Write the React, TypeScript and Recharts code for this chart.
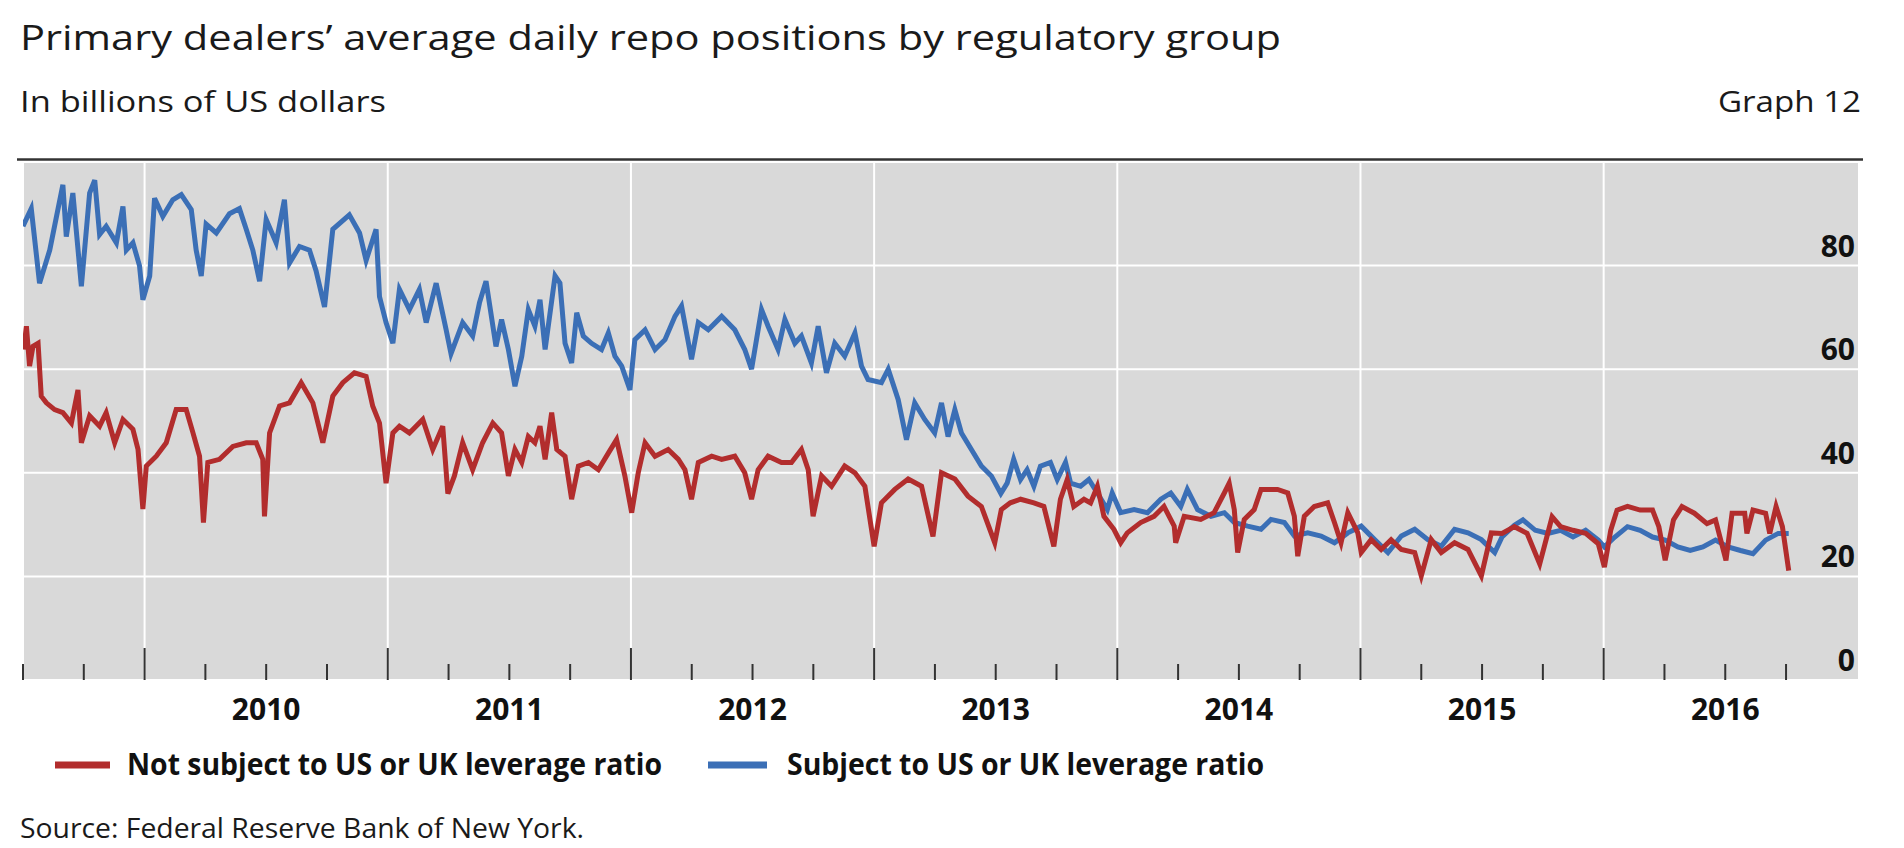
import React from "react";
import { LineChart, Line, XAxis, YAxis, CartesianGrid } from "recharts";

//========== Data (decimal years, USD bn) ===========

const notSubjectDates = [
  2009.503, 2009.514, 2009.527, 2009.541, 2009.562, 2009.575, 2009.596, 2009.63, 2009.664, 2009.699,
  2009.726, 2009.74, 2009.774, 2009.815, 2009.842, 2009.877, 2009.911, 2009.952, 2009.973, 2009.993,
  2010.007, 2010.048, 2010.089, 2010.13, 2010.171, 2010.199, 2010.226, 2010.242, 2010.26, 2010.308,
  2010.363, 2010.418, 2010.459, 2010.486, 2010.493, 2010.514, 2010.555, 2010.596, 2010.644, 2010.692,
  2010.733, 2010.774, 2010.815, 2010.863, 2010.911, 2010.938, 2010.966, 2010.993, 2011.021, 2011.048,
  2011.089, 2011.144, 2011.185, 2011.226, 2011.247, 2011.274, 2011.308, 2011.349, 2011.39, 2011.432,
  2011.468, 2011.496, 2011.523, 2011.551, 2011.578, 2011.605, 2011.626, 2011.647, 2011.674, 2011.695,
  2011.729, 2011.756, 2011.784, 2011.825, 2011.866, 2011.907, 2011.941, 2011.975, 2012.003, 2012.03,
  2012.058, 2012.099, 2012.153, 2012.195, 2012.222, 2012.249, 2012.277, 2012.332, 2012.373, 2012.427,
  2012.468, 2012.496, 2012.523, 2012.564, 2012.619, 2012.66, 2012.701, 2012.729, 2012.749, 2012.784,
  2012.825, 2012.879, 2012.921, 2012.962, 2013.0, 2013.03, 2013.085, 2013.14, 2013.195, 2013.242,
  2013.277, 2013.332, 2013.386, 2013.441, 2013.496, 2013.523, 2013.56, 2013.602, 2013.657, 2013.698,
  2013.739, 2013.766, 2013.794, 2013.821, 2013.863, 2013.89, 2013.918, 2013.945, 2013.986, 2014.014,
  2014.041, 2014.096, 2014.151, 2014.192, 2014.234, 2014.24, 2014.275, 2014.343, 2014.398, 2014.44,
  2014.46, 2014.481, 2014.495, 2014.522, 2014.563, 2014.591, 2014.659, 2014.701, 2014.728, 2014.742,
  2014.769, 2014.81, 2014.865, 2014.893, 2014.92, 2014.948, 2014.989, 2015.003, 2015.044, 2015.085,
  2015.126, 2015.168, 2015.223, 2015.25, 2015.291, 2015.332, 2015.387, 2015.442, 2015.497, 2015.538,
  2015.582, 2015.633, 2015.685, 2015.737, 2015.788, 2015.823, 2015.874, 2015.926, 2015.978, 2016.003,
  2016.029, 2016.055, 2016.098, 2016.15, 2016.201, 2016.227, 2016.253, 2016.287, 2016.322, 2016.373,
  2016.425, 2016.46, 2016.503, 2016.528, 2016.58, 2016.589, 2016.614, 2016.666, 2016.683, 2016.709,
  2016.735, 2016.761,
];
const notSubjectValues = [
  63.8, 68.3, 60.6, 64.4, 65, 54.8, 53.5, 52.2, 51.6, 49.6,
  56, 45.8, 51, 49, 51.6, 45.8, 50.3, 48.4, 44.5, 33,
  41.3, 43.2, 45.8, 52.2, 52.2, 47.7, 43.2, 30.4, 42, 42.6,
  45.1, 45.8, 45.8, 42.6, 31.6, 47.7, 52.9, 53.5, 57.4, 53.5,
  45.8, 54.8, 57.4, 59.3, 58.6, 52.9, 49.6, 38, 47.7, 49,
  47.7, 50.3, 44.5, 49, 36, 39.4, 45.8, 40.6, 45.8, 49.6,
  47.7, 39.4, 44.5, 42, 47, 45.8, 49, 42.6, 51.6, 44.5,
  43.2, 34.9, 41.3, 42, 40.6, 43.8, 46.4, 39.4, 32.3, 40,
  45.8, 43.2, 44.5, 42.6, 40.6, 34.9, 42, 43.2, 42.6, 43.2,
  40, 34.9, 40.6, 43.2, 42, 42, 44.5, 40.6, 31.6, 39.4,
  37.4, 41.3, 40, 37.4, 25.8, 34.2, 36.8, 38.8, 37.4, 27.7,
  40, 38.8, 35.5, 33.5, 26.5, 32.9, 34.2, 34.9, 34.2, 33.5,
  25.8, 34.9, 38.7, 33.5, 34.9, 34.2, 37.4, 31.6, 29.1, 26.5,
  28.4, 30.4, 31.6, 33.5, 29.7, 26.5, 31.6, 31, 32.3, 36.1,
  38, 32.9, 24.6, 31, 32.9, 36.8, 36.8, 36.1, 31.6, 23.9,
  31.6, 33.5, 34.2, 30.4, 26.5, 32.3, 28.4, 24.6, 27.1, 25.2,
  27.1, 25.2, 24.6, 20.1, 27.1, 24.6, 26.5, 25.2, 20.1, 28.4,
  28.3, 29.6, 28.3, 22.4, 31.5, 29.6, 28.9, 28.3, 26.3, 21.8,
  28.9, 32.8, 33.5, 32.8, 32.8, 29.6, 23.1, 30.9, 33.5, 32.2,
  30.2, 30.9, 23.1, 32.2, 32.2, 28.3, 32.8, 32.2, 28.3, 33.5,
  29.6, 21.1,
];

const subjectDates = [
  2009.5, 2009.534, 2009.568, 2009.61, 2009.664, 2009.678, 2009.705, 2009.74, 2009.774, 2009.795,
  2009.815, 2009.842, 2009.884, 2009.911, 2009.925, 2009.952, 2009.979, 2009.993, 2010.021, 2010.041,
  2010.075, 2010.116, 2010.151, 2010.192, 2010.212, 2010.233, 2010.253, 2010.295, 2010.349, 2010.39,
  2010.418, 2010.445, 2010.473, 2010.5, 2010.541, 2010.575, 2010.596, 2010.637, 2010.678, 2010.705,
  2010.74, 2010.774, 2010.842, 2010.884, 2010.911, 2010.952, 2010.966, 2010.993, 2011.021, 2011.048,
  2011.089, 2011.13, 2011.158, 2011.199, 2011.24, 2011.26, 2011.308, 2011.349, 2011.377, 2011.404,
  2011.445, 2011.468, 2011.496, 2011.523, 2011.551, 2011.578, 2011.605, 2011.626, 2011.647, 2011.688,
  2011.708, 2011.729, 2011.756, 2011.777, 2011.804, 2011.838, 2011.879, 2011.907, 2011.934, 2011.962,
  2011.996, 2012.016, 2012.058, 2012.099, 2012.14, 2012.181, 2012.208, 2012.249, 2012.277, 2012.318,
  2012.373, 2012.427, 2012.468, 2012.496, 2012.537, 2012.564, 2012.605, 2012.633, 2012.674, 2012.701,
  2012.742, 2012.77, 2012.804, 2012.838, 2012.879, 2012.921, 2012.948, 2012.975, 2013.03, 2013.058,
  2013.099, 2013.133, 2013.167, 2013.208, 2013.249, 2013.277, 2013.304, 2013.332, 2013.359, 2013.4,
  2013.441, 2013.482, 2013.521, 2013.547, 2013.574, 2013.602, 2013.629, 2013.657, 2013.684, 2013.725,
  2013.753, 2013.787, 2013.808, 2013.849, 2013.883, 2013.918, 2013.959, 2013.979, 2014.014, 2014.069,
  2014.124, 2014.179, 2014.22, 2014.261, 2014.288, 2014.33, 2014.385, 2014.44, 2014.481, 2014.536,
  2014.591, 2014.632, 2014.687, 2014.728, 2014.783, 2014.838, 2014.893, 2014.948, 2015.003, 2015.058,
  2015.113, 2015.168, 2015.223, 2015.277, 2015.332, 2015.387, 2015.442, 2015.497, 2015.552, 2015.582,
  2015.633, 2015.668, 2015.719, 2015.771, 2015.823, 2015.874, 2015.926, 2015.978, 2016.003, 2016.046,
  2016.098, 2016.15, 2016.201, 2016.253, 2016.305, 2016.356, 2016.408, 2016.46, 2016.511, 2016.563,
  2016.614, 2016.666, 2016.718, 2016.761,
];
const subjectValues = [
  87.6, 91, 76.6, 83, 95.6, 85.6, 94, 76, 94, 96.5,
  86, 87.6, 84.4, 91.4, 83, 84.4, 80, 73.4, 78, 93,
  89.5, 92.7, 93.7, 90.8, 83, 78, 88, 86.3, 90, 91,
  87, 83, 77, 88.9, 84.4, 92.7, 80.5, 83.7, 83, 79,
  72, 87, 89.8, 86.3, 81, 87, 74, 69, 65, 75.4,
  71.5, 75.4, 69, 76.6, 67.6, 63, 69, 66.4, 72.8, 77,
  64.4, 69.6, 63.8, 56.7, 62.5, 71.5, 68.3, 73.4, 63.8, 78,
  76.6, 65, 61.2, 70.9, 66.4, 65, 63.8, 67, 62.5, 60.6,
  56, 65.7, 67.6, 63.8, 65.7, 70.2, 72.2, 61.9, 69, 67.6,
  70.2, 67.6, 63.8, 60, 71.5, 68.3, 63.8, 69.6, 65, 66.4,
  61.2, 68.3, 59.3, 65, 62.5, 67, 60.6, 58, 57.4, 60,
  54.1, 46.4, 53.5, 50.3, 47.7, 53.5, 47, 52.2, 47.7, 44.5,
  41.3, 39.4, 36, 38, 42.6, 38.7, 40.6, 37.4, 41.3, 42,
  38.7, 42, 38, 37.4, 38.7, 36.1, 32.9, 36.1, 32.3, 32.9,
  32.3, 34.9, 36.1, 33.5, 36.8, 32.9, 31.6, 32.3, 30.4, 29.7,
  29.1, 31, 30.4, 27.8, 28.4, 27.8, 26.5, 28.4, 29.7, 27.1,
  24.6, 27.8, 29.1, 27.1, 25.8, 29.1, 28.4, 27.1, 24.6, 27.6,
  29.9, 30.9, 28.9, 28.3, 28.9, 27.6, 28.9, 27, 25.7, 27.6,
  29.6, 28.9, 27.6, 27, 25.7, 25, 25.7, 27, 25.7, 25,
  24.4, 27, 28.3, 28.3,
];

const quarterTicks = [
  2009.5, 2009.75, 2010, 2010.25, 2010.5, 2010.75, 2011, 2011.25, 2011.5, 2011.75,
  2012, 2012.25, 2012.5, 2012.75, 2013, 2013.25, 2013.5, 2013.75, 2014, 2014.25,
  2014.5, 2014.75, 2015, 2015.25, 2015.5, 2015.75, 2016, 2016.25, 2016.5, 2016.75,
];
const yearLines = [2010, 2011, 2012, 2013, 2014, 2015, 2016];
const valueTicks = [0, 20, 40, 60, 80];

const notSubjectData = notSubjectDates.map((d, i) => ({ date: d, value: notSubjectValues[i] }));
const subjectData = subjectDates.map((d, i) => ({ date: d, value: subjectValues[i] }));

const RED = "#B22D2D";
const BLUE = "#3B6FB6";
const FONT = "'Open Sans', 'Noto Sans', sans-serif";
const X_DOMAIN: [number, number] = [2009.5, 2017.05];

//========== Axis ticks ===========

const QuarterTick = (props: any) => {
  const { x, y, payload } = props;
  const v = payload.value as number;
  const isYear = Number.isInteger(v);
  const showLabel = Math.abs((v % 1) - 0.5) < 1e-6 && v > 2010;
  return (
    <g>
      <line x1={x} x2={x} y1={y} y2={y - (isYear ? 32 : 16)} stroke="#333" strokeWidth={2} />
      {showLabel && (
        <text x={x} y={y + 40} textAnchor="middle" fontFamily={FONT} fontSize={30} fontWeight={700} fill="#111">
          {Math.floor(v)}
        </text>
      )}
    </g>
  );
};

const ValueTick = (props: any) => {
  const { x, y, payload } = props;
  return (
    <text x={x - 4} y={y - 9} textAnchor="end" fontFamily={FONT} fontSize={30} fontWeight={700} fill="#111">
      {payload.value}
    </text>
  );
};

//========== Chart ===========

export default function App() {
  return (
    <div style={{ position: "absolute", left: 0, top: 0, width: 1904, height: 848, background: "#fff" }}>
      <LineChart width={1904} height={848} margin={{ top: 162, right: 0, bottom: 108, left: 23 }}>
        {/* grid follows the hidden "years" axis so vertical lines sit only on Jan 1 */}
        <CartesianGrid fill="#D9D9D9" stroke="#fff" strokeWidth={2} xAxisId="years" />
        <XAxis
          xAxisId="years"
          dataKey="date"
          type="number"
          domain={X_DOMAIN}
          ticks={yearLines}
          interval={0}
          allowDataOverflow
          hide
        />
        <XAxis
          dataKey="date"
          type="number"
          domain={X_DOMAIN}
          ticks={quarterTicks}
          interval={0}
          allowDataOverflow
          axisLine={false}
          tickLine={false}
          tickSize={0}
          tickMargin={0}
          height={60}
          tick={<QuarterTick />}
        />
        <YAxis
          orientation="right"
          type="number"
          domain={[0, 100]}
          ticks={valueTicks}
          interval={0}
          width={45}
          axisLine={false}
          tickLine={false}
          tickSize={0}
          tickMargin={0}
          tick={<ValueTick />}
        />
        <Line
          data={subjectData}
          dataKey="value"
          type="linear"
          stroke={BLUE}
          strokeWidth={5}
          strokeLinejoin="miter"
          dot={false}
          isAnimationActive={false}
          name="Subject to US or UK leverage ratio"
        />
        <Line
          data={notSubjectData}
          dataKey="value"
          type="linear"
          stroke={RED}
          strokeWidth={5}
          strokeLinejoin="miter"
          dot={false}
          isAnimationActive={false}
          name="Not subject to US or UK leverage ratio"
        />
      </LineChart>

      {/* ====== Titles, legend, source ====== */}
      <svg width={1904} height={848} style={{ position: "absolute", left: 0, top: 0, pointerEvents: "none" }}>
        <text x={20} y={50} fontFamily={FONT} fontSize={35} fill="#1a1a1a" textLength={1261} lengthAdjust="spacingAndGlyphs">
          Primary dealers’ average daily repo positions by regulatory group
        </text>
        <text x={20} y={112} fontFamily={FONT} fontSize={29} fill="#1a1a1a" textLength={366} lengthAdjust="spacingAndGlyphs">
          In billions of US dollars
        </text>
        <text x={1718} y={112} fontFamily={FONT} fontSize={29} fill="#1a1a1a" textLength={143} lengthAdjust="spacingAndGlyphs">
          Graph 12
        </text>
        <line x1={17} x2={1863} y1={159.5} y2={159.5} stroke="#333" strokeWidth={2.5} />

        <line x1={55} x2={110} y1={765} y2={765} stroke={RED} strokeWidth={7} />
        <text x={127} y={775} fontFamily={FONT} fontSize={30} fontWeight={700} fill="#111" textLength={535} lengthAdjust="spacingAndGlyphs">
          Not subject to US or UK leverage ratio
        </text>
        <line x1={708} x2={767} y1={765} y2={765} stroke={BLUE} strokeWidth={7} />
        <text x={787} y={775} fontFamily={FONT} fontSize={30} fontWeight={700} fill="#111" textLength={477} lengthAdjust="spacingAndGlyphs">
          Subject to US or UK leverage ratio
        </text>

        <text x={20} y={838} fontFamily={FONT} fontSize={28} fill="#1a1a1a" textLength={564} lengthAdjust="spacingAndGlyphs">
          Source: Federal Reserve Bank of New York.
        </text>
      </svg>
    </div>
  );
}
